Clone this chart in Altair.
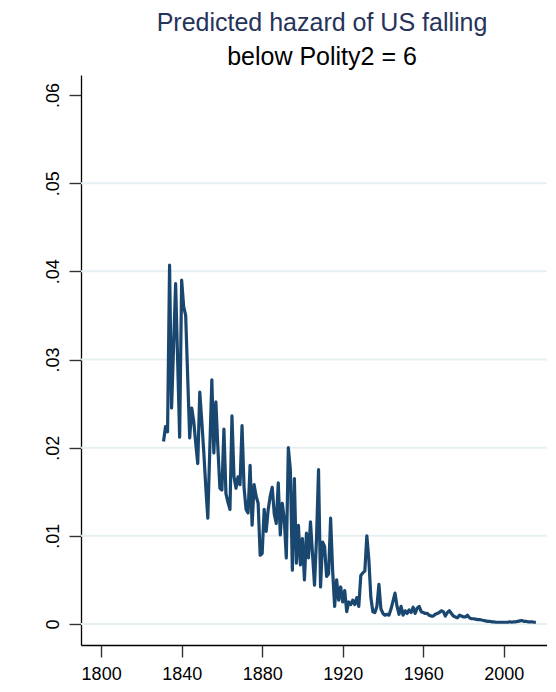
import altair as alt
import pandas as pd

# ---- data ----
years = list(range(1831, 2017))
hazard = [
    # 1831-1840
    0.0207, 0.0224, 0.0218, 0.0407, 0.0245, 0.0315, 0.0386, 0.0300, 0.0212, 0.0390,
    # 1841-1850
    0.0360, 0.0350, 0.0280, 0.0211, 0.0245, 0.0230, 0.0205, 0.0182, 0.0263, 0.0230,
    # 1851-1860
    0.0195, 0.0155, 0.0120, 0.0200, 0.0277, 0.0194, 0.0252, 0.0200, 0.0154, 0.0152,
    # 1861-1870
    0.0221, 0.0148, 0.0138, 0.0130, 0.0236, 0.0167, 0.0154, 0.0167, 0.0158, 0.0225,
    # 1871-1880
    0.0155, 0.0130, 0.0126, 0.0180, 0.0112, 0.0158, 0.0145, 0.0137, 0.0078, 0.0080,
    # 1881-1890
    0.0130, 0.0105, 0.0130, 0.0145, 0.0155, 0.0125, 0.0114, 0.0160, 0.0101, 0.0137,
    # 1891-1900
    0.0118, 0.0075, 0.0200, 0.0175, 0.0061, 0.0165, 0.0069, 0.0112, 0.0067, 0.0097,
    # 1901-1910
    0.0050, 0.0103, 0.0075, 0.0116, 0.0080, 0.0044, 0.0097, 0.0175, 0.0042, 0.0093,
    # 1911-1920
    0.0088, 0.0054, 0.0057, 0.0120, 0.0061, 0.0020, 0.0050, 0.0027, 0.0042, 0.0025,
    # 1921-1930
    0.0038, 0.0014, 0.0025, 0.0022, 0.0027, 0.0022, 0.0030, 0.0020, 0.0055, 0.0058,
    # 1931-1940
    0.0060, 0.0100, 0.0073, 0.0030, 0.0014, 0.0013, 0.0020, 0.0045, 0.0017, 0.0012,
    # 1941-1950
    0.0010, 0.0011, 0.0010, 0.0017, 0.0026, 0.0035, 0.0020, 0.0011, 0.0020, 0.0010,
    # 1951-1960
    0.0015, 0.0012, 0.0016, 0.0013, 0.0019, 0.0012, 0.0018, 0.0020, 0.0014, 0.0013,
    # 1961-1970
    0.0012, 0.0012, 0.0010, 0.0009, 0.0009, 0.0011, 0.0012, 0.0013, 0.0015, 0.0014,
    # 1971-1980
    0.0009, 0.0013, 0.0015, 0.0012, 0.0009, 0.0008, 0.0007, 0.0010, 0.0009, 0.0008,
    # 1981-1990
    0.0008, 0.0010, 0.0007, 0.0006, 0.0006, 0.00055, 0.0005, 0.0005, 0.00045, 0.0004,
    # 1991-2000
    0.00035, 0.0003, 0.0003, 0.00025, 0.00025, 0.0002, 0.0002, 0.0002, 0.0002, 0.0002,
    # 2001-2010
    0.0002, 0.0002, 0.00025, 0.0002, 0.00025, 0.00025, 0.0003, 0.00035, 0.0004, 0.0003,
    # 2011-2016
    0.0003, 0.00025, 0.00025, 0.00025, 0.0002, 0.0002,
]
x_ticks = [1800, 1840, 1880, 1920, 1960, 2000]
y_ticks = [0, 0.01, 0.02, 0.03, 0.04, 0.05, 0.06]
grid_vals = [0, 0.01, 0.02, 0.03, 0.04, 0.05]

assert len(years) == len(hazard)

W, H = 466, 570
xdom = [1790, 2021.5]
ydom = [-0.00238, 0.06227]
FONT = "Liberation Sans"

df = pd.DataFrame({"year": years, "hazard": hazard})
gdf = pd.DataFrame({"g": grid_vals})

xscale = alt.Scale(domain=xdom, nice=False, zero=False)
yscale = alt.Scale(domain=ydom, nice=False, zero=False)

yaxis = alt.Axis(
    values=y_ticks, title=None, grid=False,
    labelExpr="datum.value == 0 ? '0' : replace(format(datum.value, '.2f'), '0.', '.')",
    labelAngle=270, labelAlign="center", labelBaseline="alphabetic",
    labelPadding=11, tickSize=12, labelFontSize=18,
)
xaxis = alt.Axis(
    values=x_ticks, format="d", title=None, grid=False,
    tickSize=12, labelPadding=8, labelFontSize=18,
)

grid = alt.Chart(gdf).mark_rule(color="#e6eff1", strokeWidth=2).encode(
    y=alt.Y("g:Q", scale=yscale, axis=yaxis),
    x=alt.value(0),
    x2=alt.value(W),
)

line = alt.Chart(df).mark_line(
    color="#1a476f", strokeWidth=3.2, strokeJoin="round"
).encode(
    x=alt.X("year:Q", scale=xscale, axis=xaxis),
    y=alt.Y("hazard:Q", scale=yscale, axis=yaxis),
)

chart = alt.layer(grid, line).properties(
    width=W,
    height=H,
    padding={"left": 73, "top": 67, "right": 0, "bottom": 39},
    autosize=alt.AutoSizeParams(type="none"),
    background="white",
    title=alt.TitleParams(
        text="Predicted hazard of US falling",
        subtitle="below Polity2 = 6",
        font=FONT, fontSize=25, fontWeight="normal", color="#26345a",
        subtitleFont=FONT, subtitleFontSize=25, subtitleColor="black",
        subtitlePadding=9, anchor="middle", offset=5, dx=8,
    ),
).configure_view(stroke=None).configure_axis(
    labelFont=FONT, labelColor="black",
    domainColor="black", domainWidth=1.3,
    tickColor="#333333", tickWidth=1.4,
)

chart.save("out.html", embed_options={"renderer": "svg", "actions": False})
